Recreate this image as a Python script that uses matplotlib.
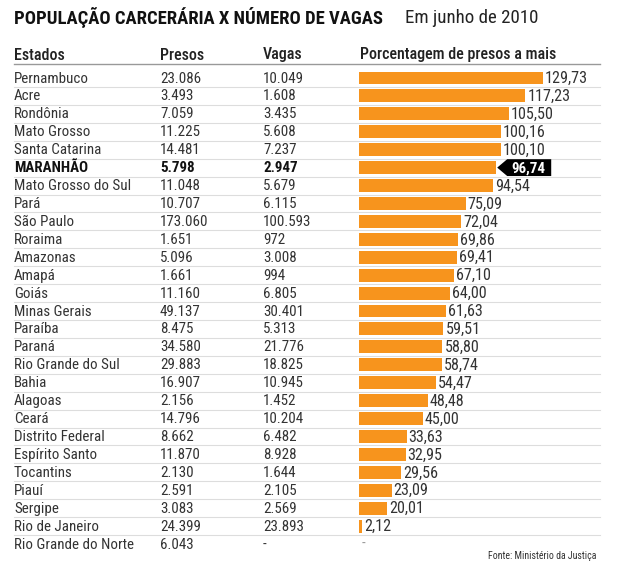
import matplotlib
matplotlib.use("Agg")
import matplotlib.pyplot as plt
from matplotlib import font_manager as fm
from matplotlib.transforms import blended_transform_factory
from matplotlib.patches import Polygon

# escolhe uma fonte estreita que esteja instalada
ttf = fm.fontManager.ttflist
def tem(nome, cond=False):
    for f in ttf:
        if f.name == nome:
            if not cond:
                return True
            if str(f.stretch) in ("condensed", "semi-condensed", "extra-condensed") or \
               (isinstance(f.stretch, int) and f.stretch < 500):
                return True
    return False

fonte, esticar = "Roboto", "normal"
for nome, cond in [("Roboto Condensed", False), ("Fira Sans Condensed", False),
                   ("Open Sans Condensed", False), ("Liberation Sans Narrow", False),
                   ("DejaVu Sans", True), ("Noto Sans", True), ("Roboto", True),
                   ("Open Sans", True)]:
    if tem(nome, cond):
        fonte = nome
        esticar = "condensed" if cond else "normal"
        break
plt.rcParams['font.family'] = [fonte, 'DejaVu Sans']
plt.rcParams['font.stretch'] = esticar

estados = ["Pernambuco", "Acre", "Rondônia", "Mato Grosso", "Santa Catarina", "MARANHÃO",
           "Mato Grosso do Sul", "Pará", "São Paulo", "Roraima", "Amazonas", "Amapá", "Goiás",
           "Minas Gerais", "Paraíba", "Paraná", "Rio Grande do Sul", "Bahia", "Alagoas", "Ceará",
           "Distrito Federal", "Espírito Santo", "Tocantins", "Piauí", "Sergipe", "Rio de Janeiro",
           "Rio Grande do Norte"]
presos = ["23.086", "3.493", "7.059", "11.225", "14.481", "5.798", "11.048", "10.707", "173.060",
          "1.651", "5.096", "1.661", "11.160", "49.137", "8.475", "34.580", "29.883", "16.907",
          "2.156", "14.796", "8.662", "11.870", "2.130", "2.591", "3.083", "24.399", "6.043"]
vagas = ["10.049", "1.608", "3.435", "5.608", "7.237", "2.947", "5.679", "6.115", "100.593",
         "972", "3.008", "994", "6.805", "30.401", "5.313", "21.776", "18.825", "10.945",
         "1.452", "10.204", "6.482", "8.928", "1.644", "2.105", "2.569", "23.893", "-"]
pct = [129.73, 117.23, 105.50, 100.16, 100.10, 96.74, 94.54, 75.09, 72.04, 69.86, 69.41, 67.10,
       64.00, 61.63, 59.51, 58.80, 58.74, 54.47, 48.48, 45.00, 33.63, 32.95, 29.56, 23.09, 20.01,
       2.12, None]
destaque = "MARANHÃO"

W, H = 635, 569
fig = plt.figure(figsize=(W / 100, H / 100), dpi=100)
fig.patch.set_facecolor("white")

# eixo das barras: de x=359px até 600px, y de 64px até 552px
ax = fig.add_axes([359 / W, 1 - 552 / H, (600 - 359) / W, (552 - 64) / H])
px_per_unit = 184 / 129.73
ax.set_xlim(0, 241 / px_per_unit)
pitch = (544 - 78) / 26
ax.set_ylim(26 + 8 / pitch, -14 / pitch)
ax.axis("off")

laranja = "#F7941D"
texto = "#333333"
n = len(estados)
fs = 10.8

for i, v in enumerate(pct):
    if v is None:
        continue
    ax.barh(i, v, height=0.72, color=laranja, edgecolor="none")

# linhas separadoras
xmin_frac = (14 - 359) / (600 - 359)
for i in range(n - 1):
    ax.axhline(i + 0.5, xmin=xmin_frac, xmax=1, color="#dddddd", lw=0.8, clip_on=False, zorder=0)
ax.axhline(-14 / pitch, xmin=xmin_frac, xmax=1, color="#999999", lw=1.0, clip_on=False)

tr = blended_transform_factory(fig.transFigure, ax.transData)
col_x = [14 / W, 160 / W, 263 / W]
for i in range(n):
    bold = estados[i] == destaque
    fw = "bold" if bold else "normal"
    col = "#111111" if bold else texto
    for cx, val in zip(col_x, [estados[i], presos[i], vagas[i]]):
        ax.text(cx, i + 0.03, val, transform=tr, ha="left", va="center", fontsize=fs,
                color=col, fontweight=fw)
    v = pct[i]
    if v is None:
        ax.text(362 / W, i, "-", transform=tr, ha="left", va="center", fontsize=fs, color="#999999")
    elif bold:
        u = 1 / px_per_unit
        x0, x1, x2 = v + 1 * u, v + 11 * u, v + 55 * u
        poly = Polygon([(x0, i), (x1, i - 0.47), (x2, i - 0.47), (x2, i + 0.47), (x1, i + 0.47)],
                       closed=True, facecolor="black", edgecolor="none", clip_on=False)
        ax.add_patch(poly)
        ax.text((x1 + x2) / 2 - 1 * u, i + 0.03, f"{v:.2f}".replace(".", ","), ha="center",
                va="center", fontsize=fs, color="white", fontweight="bold")
    else:
        ax.text(v + 2 / px_per_unit, i + 0.03, f"{v:.2f}".replace(".", ","), ha="left", va="center",
                fontsize=11.6, color=texto, clip_on=False)

# cabeçalho
hy = 1 - 55 / H
for x, lab in zip([14, 160, 263, 360], ["Estados", "Presos", "Vagas", "Porcentagem de presos a mais"]):
    fig.text(x / W, hy, lab, ha="left", va="center", fontsize=11.5, color="#222222", fontweight="medium")

fig.text(14 / W, 1 - 18 / H, "POPULAÇÃO CARCERÁRIA X NÚMERO DE VAGAS", ha="left", va="center",
         fontsize=13.4, fontweight="bold", color="#111111")
fig.text(405 / W, 1 - 18 / H, "Em junho de 2010", ha="left", va="center", fontsize=13.6, color="#222222")
fig.text(596 / W, 1 - 556 / H, "Fonte: Ministério da Justiça", ha="right", va="center",
         fontsize=7.1, color="#333333")

fig.savefig("out.png", dpi=100)
